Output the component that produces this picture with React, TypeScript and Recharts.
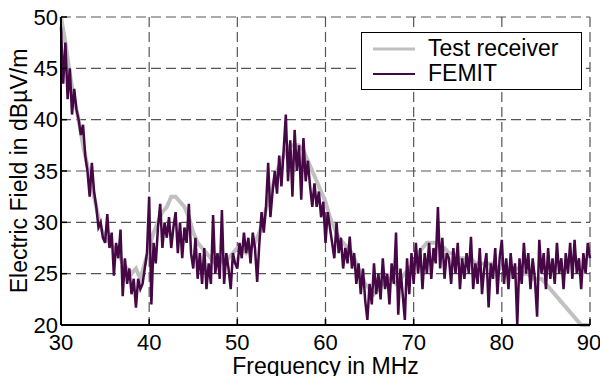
import React from 'react';
import { LineChart, Line, XAxis, YAxis, CartesianGrid, Legend } from 'recharts';

// Frequency grid (MHz)
const FREQ_START = 30;
const FEMIT_STEP = 0.25;
const RECEIVER_STEP = 0.5;

const xTicks = [30, 40, 50, 60, 70, 80, 90];
const yTicks = [20, 25, 30, 35, 40, 45, 50];

// Test receiver, every 0.5 MHz from 30 to 90 MHz (dBµV/m)
const receiverValues = [
  50, 47.5, 44.5, 42, 40, 37.5, 35.5, 33.5, 31.5, 29.5,
  28.5, 28, 27.5, 27, 26, 25.5, 25, 25.5, 24.5, 26,
  27.5, 29, 30, 31, 31.5, 32.5, 32.5, 32, 31.5, 30.5,
  29, 28, 27.5, 27, 26.5, 26, 26.5, 26, 26.5, 27,
  27.5, 27.5, 27, 27.5, 28, 29, 30.5, 32, 33.5, 35,
  36, 37, 37.5, 37.5, 37.5, 37, 36, 35, 34, 33,
  32, 30.5, 29.5, 28.5, 28, 27.5, 27, 26, 25, 24,
  23.5, 23, 23.5, 24, 24.5, 24.5, 24, 24.5, 25, 25.5,
  26, 27, 27.5, 28, 28, 28, 27.5, 27.5, 27, 27,
  26.5, 26.5, 26.5, 26.5, 26, 26, 26, 26, 26, 25.5,
  25.5, 25.5, 25.5, 25.5, 25.5, 25, 25, 24.5, 24.5, 24.5,
  24, 23.5, 23, 22.5, 22, 21.5, 21, 20.5, 20, 20,
  20,
];

// FEMIT, every 0.25 MHz from 30 to 90 MHz (dBµV/m)
const femitValues = [
  49, 43.5, 47.5, 42,
  45, 40.5, 43, 41,
  40, 38.5, 39.5, 36.5,
  35, 32.5, 35.8, 33,
  31.5, 29.5, 30, 28.5,
  28, 30.8, 27.5, 29,
  24.8, 28, 26.5, 29.3,
  22.8, 26.5, 24, 25.5,
  23, 24.5, 21.7, 24.5,
  23.5, 24, 25.5, 27,
  32.5, 22, 28, 26,
  29.5, 31.8, 27.5, 30,
  28.5, 30.5, 27.5, 29.5,
  31, 27, 30, 26.5,
  29.5, 28, 31.8, 27,
  25.5, 28.5, 24.5, 27,
  24, 27.5, 23.5, 26,
  24, 30.7, 25, 27,
  24.5, 31.2, 24, 27,
  25.5, 23.5, 27, 26,
  25.5, 28, 26.5, 29,
  27, 28.5, 26, 29,
  27.5, 24.2, 28, 31,
  29, 31.5, 35.8, 30.5,
  33, 35, 32.8, 36.5,
  33.5, 37, 40.5, 34,
  38, 32.5, 39, 35,
  37.5, 32.2, 38.2, 34,
  36, 33.5, 31.5, 33.8,
  31.5, 33, 30.5, 32,
  28, 31, 29.5, 28,
  26.5, 30, 27, 28.5,
  25.5, 27.5, 26, 28.6,
  25.5, 27, 24, 26,
  23, 25.5, 22.4, 20.5,
  24, 22, 26, 23,
  25, 22.5, 26.5, 23.5,
  25, 22, 26, 24,
  29, 21, 25.5, 23,
  20.5, 26.5, 23, 27,
  24, 28, 25, 27.5,
  23.5, 27, 25, 28,
  24.5, 27.5, 26, 31.5,
  25.5, 28.5, 24.5, 27,
  26.5, 24, 27.5, 25,
  28, 23.5, 26.5, 24.5,
  27, 25, 28.6, 23.5,
  26, 24, 27.5, 23,
  25.5, 27, 21.7, 26,
  24.5, 27.5, 23, 26.5,
  28.3, 24, 26.5, 23.5,
  27, 24.5, 26, 20,
  26.5, 24, 28, 25,
  27, 23.5, 26.5, 24.5,
  20.8, 28.3, 25, 27,
  23.5, 27.5, 24.5, 26.5,
  24, 28, 25, 26.5,
  23.5, 27, 25, 28,
  24.5, 28.3, 25, 26.5,
  23.5, 27, 25, 28,
  26.5,
];

const seriesNames = ['Test receiver', 'FEMIT'];
const seriesColors = ['#c0c0c0', '#450845'];
const seriesWidths = [4, 2.5];

const receiverData = receiverValues.map((v, i) => ({ f: FREQ_START + i * RECEIVER_STEP, v }));
const femitData = femitValues.map((v, i) => ({ f: FREQ_START + i * FEMIT_STEP, v }));

const FONT = '"Liberation Sans", Arial, sans-serif';

const renderLegend = () => (
  <div
    style={{
      boxSizing: 'border-box',
      width: 221,
      height: 58,
      border: '1.5px solid #000',
      background: '#fff',
      fontFamily: FONT,
      fontSize: 23,
      color: '#000',
      paddingTop: 3,
    }}
  >
    {seriesNames.map((name, i) => (
      <div key={name} style={{ display: 'flex', alignItems: 'center', height: 25 }}>
        <svg width={66} height={10} style={{ flex: 'none' }}>
          <line x1={11} x2={53} y1={5} y2={5} stroke={seriesColors[i]} strokeWidth={i === 0 ? 3 : 2} />
        </svg>
        <span style={{ lineHeight: '25px' }}>{name}</span>
      </div>
    ))}
  </div>
);

export default function App() {
  return (
    <div style={{ position: 'absolute', left: 0, top: 0, width: 600, height: 376, background: '#fff' }}>
      <LineChart
        width={600}
        height={376}
        margin={{ top: 17, right: 10, left: 0, bottom: 0 }}
        style={{ fontFamily: FONT }}
      >
        <CartesianGrid stroke="#555" strokeDasharray="10 5" strokeWidth={1.2} />
        <XAxis
          dataKey="f"
          type="number"
          domain={[30, 90]}
          ticks={xTicks}
          allowDuplicatedCategory={false}
          height={51}
          tickSize={-6}
          tickMargin={15}
          axisLine={{ stroke: '#000', strokeWidth: 2 }}
          tickLine={{ stroke: '#000', strokeWidth: 1.5 }}
          tick={{ fill: '#000', fontSize: 22, fontFamily: FONT }}
          label={{ value: 'Frequency in MHz', position: 'insideBottom', offset: 2, fill: '#000', fontSize: 23, fontFamily: FONT }}
        />
        <XAxis
          xAxisId="top"
          orientation="top"
          dataKey="f"
          type="number"
          domain={[30, 90]}
          ticks={xTicks}
          height={0}
          tickSize={-6}
          axisLine={{ stroke: '#000', strokeWidth: 2 }}
          tickLine={{ stroke: '#000', strokeWidth: 1.5 }}
          tickFormatter={() => ''}
        />
        <YAxis
          type="number"
          domain={[20, 50]}
          ticks={yTicks}
          width={61}
          tickSize={-6}
          tickMargin={9}
          axisLine={{ stroke: '#000', strokeWidth: 2 }}
          tickLine={{ stroke: '#000', strokeWidth: 1.5 }}
          tick={{ fill: '#000', fontSize: 22, fontFamily: FONT }}
          label={{
            value: 'Electric Field in dBµV/m',
            angle: -90,
            position: 'insideLeft',
            offset: 19,
            fill: '#000',
            fontSize: 23,
            fontFamily: FONT,
            style: { textAnchor: 'middle' },
          }}
        />
        <YAxis
          yAxisId="right"
          orientation="right"
          type="number"
          domain={[20, 50]}
          ticks={yTicks}
          width={0}
          tickSize={-6}
          axisLine={{ stroke: '#000', strokeWidth: 2 }}
          tickLine={{ stroke: '#000', strokeWidth: 1.5 }}
          tickFormatter={() => ''}
        />
        <Line
          data={receiverData}
          dataKey="v"
          name={seriesNames[0]}
          stroke={seriesColors[0]}
          strokeWidth={seriesWidths[0]}
          dot={false}
          isAnimationActive={false}
        />
        <Line
          data={femitData}
          dataKey="v"
          name={seriesNames[1]}
          stroke={seriesColors[1]}
          strokeWidth={seriesWidths[1]}
          dot={false}
          isAnimationActive={false}
        />
        <Legend
          layout="vertical"
          align="center"
          verticalAlign="middle"
          content={renderLegend}
          wrapperStyle={{ left: 361, top: 32, width: 221, height: 58, right: 'auto', bottom: 'auto' }}
        />
      </LineChart>
    </div>
  );
}
